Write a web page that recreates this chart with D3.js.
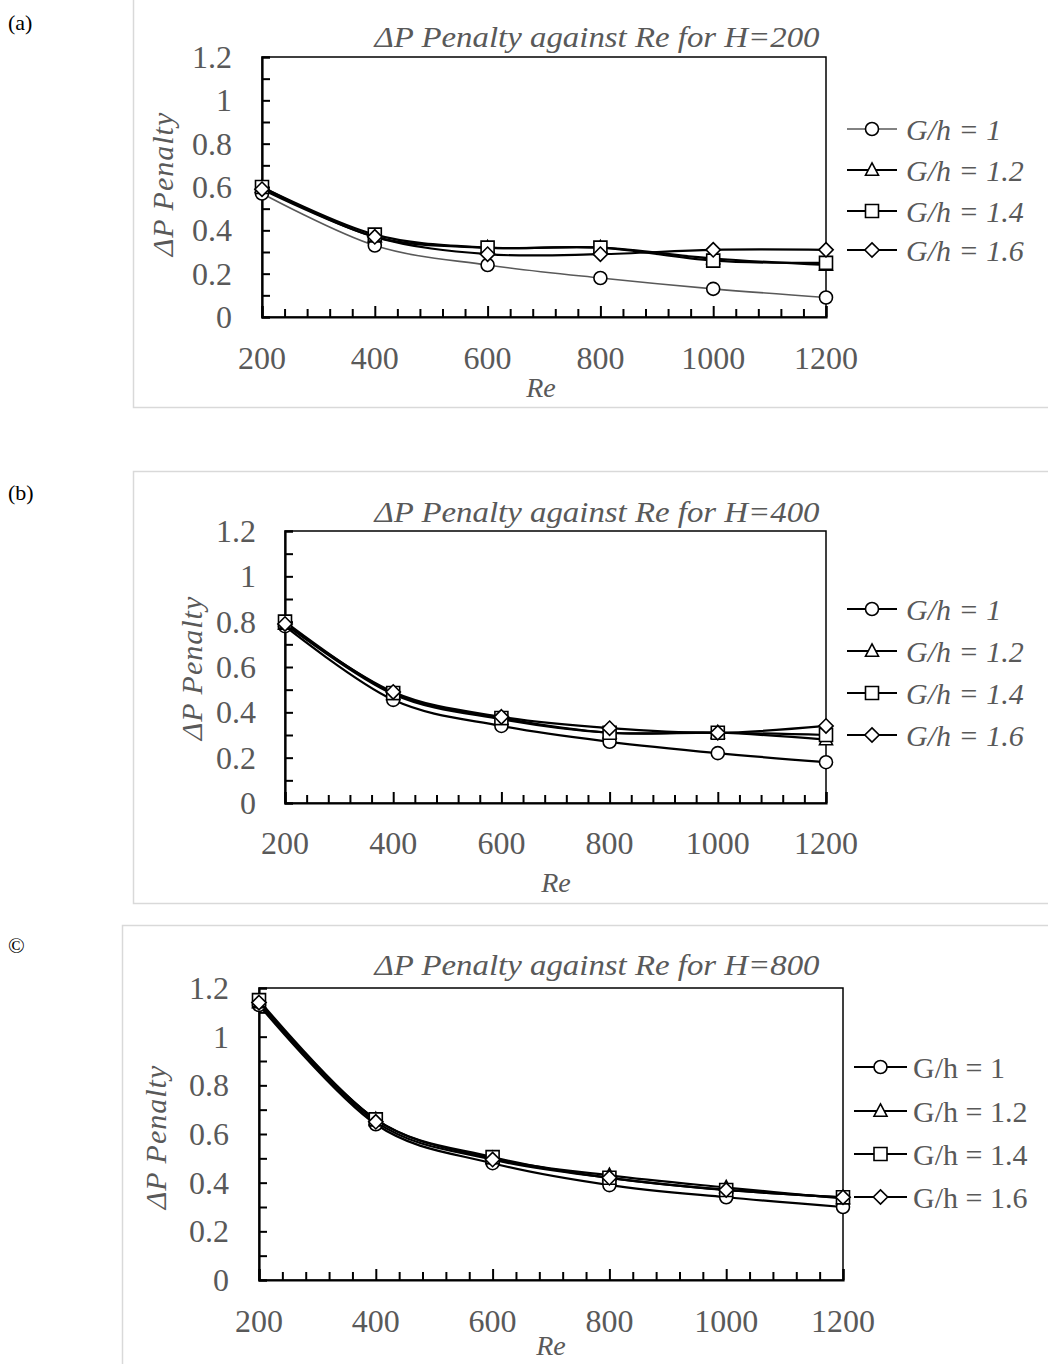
<!DOCTYPE html>
<html>
<head>
<meta charset="utf-8">
<script src="https://cdn.jsdelivr.net/npm/d3@7"></script>
<style>
  html, body { margin: 0; padding: 0; background: #fff; }
  svg { display: block; }
  text { font-family: "Liberation Serif", serif; }
</style>
</head>
<body>
<svg id="fig" width="1048" height="1364"></svg>
<script>
// Reynolds numbers on the x axis
const reValues = [200, 400, 600, 800, 1000, 1200];
const xTickLabels = ["200", "400", "600", "800", "1000", "1200"];
const yTickLabels = ["0", "0.2", "0.4", "0.6", "0.8", "1", "1.2"];
const seriesNames = ["G/h = 1", "G/h = 1.2", "G/h = 1.4", "G/h = 1.6"];
const markerTypes = ["circle", "triangle", "square", "diamond"];

// ΔP penalty, H = 200
const h200g10 = [0.57, 0.33, 0.24, 0.18, 0.13, 0.09];
const h200g12 = [0.60, 0.37, 0.32, 0.32, 0.27, 0.24];
const h200g14 = [0.60, 0.38, 0.32, 0.32, 0.26, 0.25];
const h200g16 = [0.59, 0.37, 0.29, 0.29, 0.31, 0.31];

// ΔP penalty, H = 400
const h400g10 = [0.78, 0.455, 0.34, 0.27, 0.22, 0.18];
const h400g12 = [0.79, 0.48, 0.37, 0.31, 0.31, 0.28];
const h400g14 = [0.80, 0.485, 0.375, 0.31, 0.31, 0.30];
const h400g16 = [0.79, 0.49, 0.38, 0.33, 0.31, 0.34];

// ΔP penalty, H = 800
const h800g10 = [1.13, 0.64, 0.48, 0.39, 0.34, 0.30];
const h800g12 = [1.14, 0.66, 0.50, 0.43, 0.38, 0.335];
const h800g14 = [1.15, 0.66, 0.505, 0.42, 0.37, 0.34];
const h800g16 = [1.14, 0.65, 0.495, 0.42, 0.37, 0.34];

const svg = d3.select("#fig");
const TEXT = "#595959";

// Panel layout (pixel geometry for each chart)
const panels = [
  { tag: "(a)", tagY: 22, H: "200", series: [h200g10, h200g12, h200g14, h200g16],
    border: [133, -2, 930, 409],
    x0: 262, x1: 826, y0: 317, y1: 57,
    titleY: 37, titleX: 597, xLabY: 358, reX: 541, reY: 387,
    yLabX: 162, yLabY: 184, tickRight: 232,
    legLine: [847, 897], legText: 906, legRows: [129, 170, 211, 250], legItalic: true,
    firstGray: true },
  { tag: "(b)", tagY: 492, H: "400", series: [h400g10, h400g12, h400g14, h400g16],
    border: [133, 471, 930, 432],
    x0: 285, x1: 826, y0: 803, y1: 531,
    titleY: 512, titleX: 597, xLabY: 843, reX: 556, reY: 882,
    yLabX: 191, yLabY: 668, tickRight: 256,
    legLine: [847, 897], legText: 906, legRows: [609, 651, 693, 735], legItalic: true,
    firstGray: false },
  { tag: "©", tagY: 945, H: "800", series: [h800g10, h800g12, h800g14, h800g16],
    border: [122, 925, 940, 460],
    x0: 259, x1: 843, y0: 1280, y1: 988,
    titleY: 965, titleX: 597, xLabY: 1321, reX: 551, reY: 1345,
    yLabX: 155, yLabY: 1137, tickRight: 229,
    legLine: [854, 907], legText: 913, legRows: [1067, 1111, 1154, 1197], legItalic: false,
    firstGray: false }
];

function markerPath(type, s) {
  const h = s / 2;
  if (type === "triangle") return `M0,${-h * 1.1}L${h},${h * 0.8}L${-h},${h * 0.8}Z`;
  if (type === "square") return `M${-h},${-h}H${h}V${h}H${-h}Z`;
  if (type === "diamond") return `M0,${-h * 1.1}L${h * 1.1},0L0,${h * 1.1}L${-h * 1.1},0Z`;
  return null;
}

function drawMarker(g, type, x, y) {
  if (type === "circle") {
    g.append("circle").attr("cx", x).attr("cy", y).attr("r", 6.5)
      .attr("fill", "#fff").attr("stroke", "#000").attr("stroke-width", 1.6);
  } else {
    g.append("path").attr("d", markerPath(type, 13))
      .attr("transform", `translate(${x},${y})`)
      .attr("fill", "#fff").attr("stroke", "#000").attr("stroke-width", 1.6);
  }
}

svg.append("rect").attr("width", 1048).attr("height", 1364).attr("fill", "#fff");

panels.forEach(p => {
  const g = svg.append("g");

  // chart area outline
  g.append("rect")
    .attr("x", p.border[0] + 0.5).attr("y", p.border[1] + 0.5)
    .attr("width", p.border[2]).attr("height", p.border[3])
    .attr("fill", "none").attr("stroke", "#d9d9d9").attr("stroke-width", 1.5);

  // panel tag
  svg.append("text").attr("x", 8).attr("y", p.tagY).attr("dominant-baseline", "central")
    .attr("font-size", 22).attr("fill", "#000").text(p.tag);

  const x = d3.scaleLinear().domain([200, 1200]).range([p.x0, p.x1]);
  const y = d3.scaleLinear().domain([0, 1.2]).range([p.y0, p.y1]);

  // plot frame
  g.append("rect").attr("x", p.x0).attr("y", p.y1)
    .attr("width", p.x1 - p.x0).attr("height", p.y0 - p.y1)
    .attr("fill", "none").attr("stroke", "#000").attr("stroke-width", 1.5);

  // y axis: inward ticks every 0.1, labels every 0.2
  const yAxis = d3.axisRight(y).tickValues(d3.range(0, 1.2001, 0.1)).tickSize(8).tickFormat("");
  g.append("g").attr("transform", `translate(${p.x0},0)`).call(yAxis)
    .call(a => a.select(".domain").attr("stroke-width", 2.2))
    .call(a => a.selectAll(".tick line").attr("stroke-width", 2));
  yTickLabels.forEach(t => {
    g.append("text").attr("x", p.tickRight).attr("y", y(+t))
      .attr("text-anchor", "end").attr("dominant-baseline", "central")
      .attr("font-size", 32).attr("fill", TEXT).text(t);
  });

  // x axis: inward ticks every 40, longer at labelled values
  const minor = d3.range(200, 1200.1, 40).filter(v => (v - 200) % 200 !== 0);
  const xMinor = d3.axisTop(x).tickValues(minor).tickSize(8).tickFormat("");
  const xMajor = d3.axisTop(x).tickValues(reValues).tickSize(11).tickFormat("");
  g.append("g").attr("transform", `translate(0,${p.y0})`).call(xMinor)
    .call(a => a.select(".domain").remove())
    .call(a => a.selectAll(".tick line").attr("stroke-width", 2));
  g.append("g").attr("transform", `translate(0,${p.y0})`).call(xMajor)
    .call(a => a.select(".domain").attr("stroke-width", 2.2))
    .call(a => a.selectAll(".tick line").attr("stroke-width", 2));
  reValues.forEach((v, i) => {
    g.append("text").attr("x", x(v)).attr("y", p.xLabY)
      .attr("text-anchor", "middle").attr("dominant-baseline", "central")
      .attr("font-size", 32).attr("fill", TEXT).text(xTickLabels[i]);
  });

  // series lines (smoothed) and markers
  const line = d3.line().x((d, i) => x(reValues[i])).y(d => y(d)).curve(d3.curveCardinal.tension(0));
  p.series.forEach((vals, si) => {
    const gray = p.firstGray && si === 0;
    g.append("path").datum(vals).attr("d", line)
      .attr("fill", "none").attr("stroke", gray ? "#595959" : "#000")
      .attr("stroke-width", gray ? 1.6 : 2.2);
  });
  p.series.forEach((vals, si) => {
    vals.forEach((v, i) => drawMarker(g, markerTypes[si], x(reValues[i]), y(v)));
  });

  // title
  g.append("text").attr("x", p.titleX).attr("y", p.titleY)
    .attr("text-anchor", "middle").attr("dominant-baseline", "central")
    .attr("font-size", 29).attr("font-style", "italic").attr("fill", TEXT)
    .attr("textLength", 445).attr("lengthAdjust", "spacingAndGlyphs")
    .text(`ΔP Penalty against Re for H=${p.H}`);

  // axis titles
  g.append("text").attr("x", p.reX).attr("y", p.reY)
    .attr("text-anchor", "middle").attr("dominant-baseline", "central")
    .attr("font-size", 28).attr("font-style", "italic").attr("fill", TEXT).text("Re");
  g.append("text")
    .attr("transform", `translate(${p.yLabX},${p.yLabY}) rotate(-90)`)
    .attr("text-anchor", "middle").attr("dominant-baseline", "central")
    .attr("font-size", 30).attr("font-style", "italic").attr("fill", TEXT)
    .attr("letter-spacing", 1).text("ΔP Penalty");

  // legend
  seriesNames.forEach((name, si) => {
    const ly = p.legRows[si];
    const gray = p.firstGray && si === 0;
    g.append("line").attr("x1", p.legLine[0]).attr("x2", p.legLine[1])
      .attr("y1", ly).attr("y2", ly)
      .attr("stroke", gray ? "#595959" : "#000").attr("stroke-width", gray ? 1.6 : 2.2);
    drawMarker(g, markerTypes[si], (p.legLine[0] + p.legLine[1]) / 2, ly);
    g.append("text").attr("x", p.legText).attr("y", ly)
      .attr("dominant-baseline", "central").attr("font-size", 30)
      .attr("font-style", p.legItalic ? "italic" : "normal")
      .attr("fill", TEXT).text(name);
  });
});
</script>
</body>
</html>
